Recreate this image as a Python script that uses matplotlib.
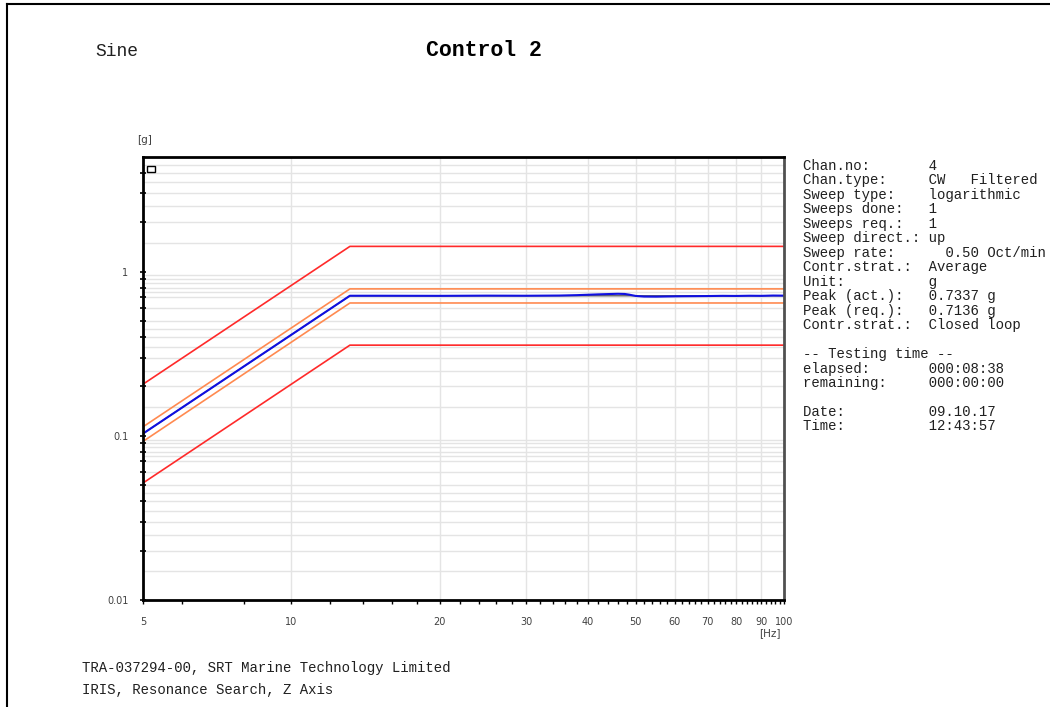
import numpy as np
import matplotlib
matplotlib.use("Agg")
import matplotlib.pyplot as plt
from matplotlib.lines import Line2D
from matplotlib.patches import Rectangle
from matplotlib.ticker import FixedLocator, NullFormatter

# profile breakpoints (Hz / g)
ref_freq = [5, 13.15, 100]
ref_g = [0.1032, 0.7136, 0.7136]
abort_hi = [0.2064, 1.427, 1.427]
abort_lo = [0.0516, 0.357, 0.357]
alarm_hi = [0.1135, 0.786, 0.786]
alarm_lo = [0.0925, 0.645, 0.645]

# measured control signal
meas_freq = [5, 13.15, 15, 20, 25, 30, 35, 38, 40, 42, 44, 46, 47.5, 48.5,
             50, 52, 55, 58, 62, 66, 70, 75, 80, 85, 90, 95, 100]
meas_g = [0.1032, 0.714, 0.714, 0.713, 0.715, 0.714, 0.716, 0.720, 0.724,
          0.728, 0.731, 0.7337, 0.732, 0.725, 0.712, 0.706, 0.705, 0.707,
          0.709, 0.710, 0.711, 0.713, 0.712, 0.714, 0.713, 0.716, 0.715]

x_ticks = [5, 10, 20, 30, 40, 50, 60, 70, 80, 90, 100]
y_ticks = [0.01, 0.1, 1]
y_labels = ["0.01", "0.1", "1"]

info = [
    ("Chan.no:", "4"),
    ("Chan.type:", "CW   Filtered"),
    ("Sweep type:", "logarithmic"),
    ("Sweeps done:", "1"),
    ("Sweeps req.:", "1"),
    ("Sweep direct.:", "up"),
    ("Sweep rate:", "  0.50 Oct/min"),
    ("Contr.strat.:", "Average"),
    ("Unit:", "g"),
    ("Peak (act.):", "0.7337 g"),
    ("Peak (req.):", "0.7136 g"),
    ("Contr.strat.:", "Closed loop"),
    ("", ""),
    ("-- Testing time --", ""),
    ("elapsed:", "000:08:38"),
    ("remaining:", "000:00:00"),
    ("", ""),
    ("Date:", "09.10.17"),
    ("Time:", "12:43:57"),
]

mono = "Liberation Mono"
W, H = 1050, 707
fig = plt.figure(figsize=(10.5, 7.07), dpi=100)
ax = fig.add_axes([143 / W, 1 - 600 / H, (784 - 143) / W, (600 - 157) / H])

ax.set_xscale("log")
ax.set_yscale("log")
ax.set_xlim(5, 100)
ax.set_ylim(0.01, 5.0)

# grid
for d in [0.01, 0.1, 1]:
    for m in [1.5, 2, 2.5, 3, 3.5, 4, 4.5, 5, 6, 7, 7.5, 8, 8.5, 9, 9.5]:
        v = d * m
        if v < 5:
            ax.axhline(v, color="#e4e4e4", lw=1, zorder=0)
for f in range(10, 100, 10):
    ax.axvline(f, color="#e4e4e4", lw=1, zorder=0)

ax.plot(ref_freq, abort_hi, color="#ff2a2a", lw=1.2)
ax.plot(ref_freq, abort_lo, color="#ff2a2a", lw=1.2)
ax.plot(ref_freq, alarm_hi, color="#ff8a50", lw=1.2)
ax.plot(ref_freq, alarm_lo, color="#ff8a50", lw=1.2)
ax.plot(ref_freq, ref_g, color="#606060", lw=1.0)
ax.plot(meas_freq, meas_g, color="#1010e0", lw=1.5)

ax.xaxis.set_major_locator(FixedLocator(x_ticks))
ax.set_xticklabels([str(v) for v in x_ticks])
ax.xaxis.set_minor_locator(FixedLocator(list(range(6, 100, 2))))
ax.xaxis.set_minor_formatter(NullFormatter())
ax.yaxis.set_major_locator(FixedLocator(y_ticks))
ax.set_yticklabels(y_labels)
ax.yaxis.set_minor_locator(FixedLocator(
    [d * m for d in [0.01, 0.1, 1] for m in range(2, 10) if d * m < 5]))
ax.yaxis.set_minor_formatter(NullFormatter())

ax.tick_params(axis="x", which="both", direction="out", length=3, width=1,
               labelsize=7, labelcolor="#404040", pad=9)
ax.tick_params(axis="y", which="both", direction="inout", length=5, width=1.2,
               labelsize=7, labelcolor="#404040", pad=8)
for s in ["left", "bottom", "top"]:
    ax.spines[s].set_linewidth(2)
    ax.spines[s].set_color("black")
ax.spines["right"].set_linewidth(2)
ax.spines["right"].set_color("#505050")

ax.add_patch(Rectangle((0.0065, 0.967), 0.012, 0.013, transform=ax.transAxes,
                       fill=False, lw=1, ec="black"))

fig.text(137 / W, 1 - 140 / H, "[g]", fontsize=7.5, color="#404040", va="center")
fig.text(770 / W, 1 - 633 / H, "[Hz]", fontsize=7.5, color="#404040",
         va="center", ha="center")

fig.text(95 / W, 1 - 52 / H, "Sine", fontsize=13, family=mono, va="center",
         color="#202020")
fig.text(484 / W, 1 - 50 / H, "Control 2", fontsize=15.5, family=mono,
         weight="bold", va="center", ha="center")

for i, (lab, val) in enumerate(info):
    line = lab.ljust(15) + val if val else lab
    fig.text(803 / W, 1 - (166 + 14.47 * i) / H, line, fontsize=10.1,
             family=mono, va="center", color="#202020")

fig.text(82 / W, 1 - 668 / H, "TRA-037294-00, SRT Marine Technology Limited",
         fontsize=10.1, family=mono, va="center", color="#202020")
fig.text(82 / W, 1 - 690 / H, "IRIS, Resonance Search, Z Axis",
         fontsize=10.1, family=mono, va="center", color="#202020")

# page frame
fig.add_artist(Line2D([7 / W, 1], [1 - 4 / H, 1 - 4 / H], color="black", lw=1.5))
fig.add_artist(Line2D([7 / W, 7 / W], [0, 1 - 4 / H], color="black", lw=1.5))

fig.savefig("out.png", dpi=100)
